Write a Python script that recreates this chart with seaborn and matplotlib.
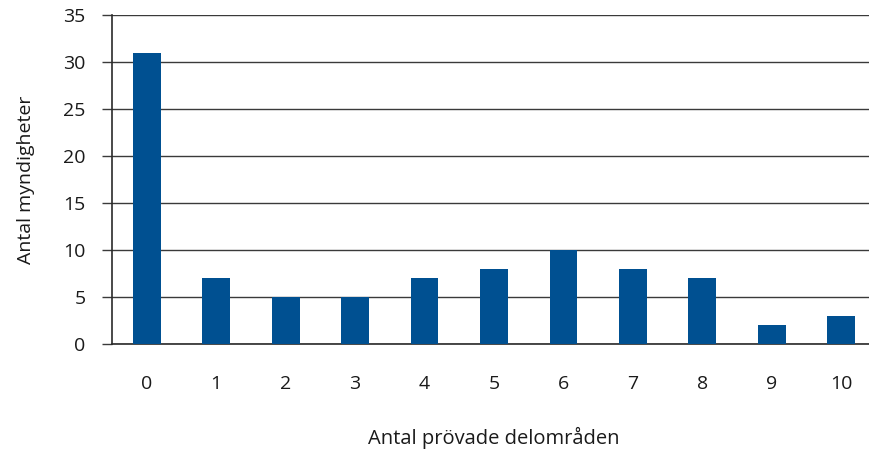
import numpy as np
import pandas as pd
import matplotlib
matplotlib.use('Agg')
import matplotlib.pyplot as plt
import seaborn as sns

# Data
delomraden = ['0', '1', '2', '3', '4', '5', '6', '7', '8', '9', '10']
antal_myndigheter = [31, 7, 5, 5, 7, 8, 10, 8, 7, 2, 3]
y_ticks = [0, 5, 10, 15, 20, 25, 30, 35]

df = pd.DataFrame({'delomrade': delomraden, 'antal': antal_myndigheter})

sns.set_style('white')
plt.rcParams['font.family'] = ['Open Sans', 'DejaVu Sans']

fig = plt.figure(figsize=(8.7, 4.5), dpi=100)
ax = fig.add_axes([112 / 870, 1 - 344 / 450, 764 / 870, 329 / 450])

sns.barplot(data=df, x='delomrade', y='antal', color='#005091',
            width=0.4, saturation=1, linewidth=0, ax=ax, zorder=3)

ax.set_ylim(0, 35)
ax.set_xlim(-0.5, len(delomraden) - 0.5)
ax.set_yticks(y_ticks)
ax.yaxis.grid(True, color='#3a3a3a', linewidth=1, zorder=0)
ax.set_axisbelow(True)

# tick marks between the categories
ax.set_xticks(np.arange(-0.5, len(delomraden), 1), minor=True)
ax.tick_params(axis='x', which='minor', length=8, width=1, color='#3a3a3a', direction='out')
ax.tick_params(axis='x', which='major', length=0, pad=22, labelsize=14, colors='#1a1a1a')
ax.tick_params(axis='y', length=7, width=1, color='#3a3a3a', pad=12, labelsize=14,
               colors='#1a1a1a', left=True)

for side in ['top', 'right']:
    ax.spines[side].set_visible(False)
for side in ['left', 'bottom']:
    ax.spines[side].set_color('#2a2a2a')
    ax.spines[side].set_linewidth(1.2)

ax.set_xlabel('Antal prövade delområden', fontsize=14.5, labelpad=25, color='#1a1a1a')
ax.set_ylabel('Antal myndigheter', fontsize=14, labelpad=20, color='#1a1a1a')

fig.savefig('out.png', dpi=100)
